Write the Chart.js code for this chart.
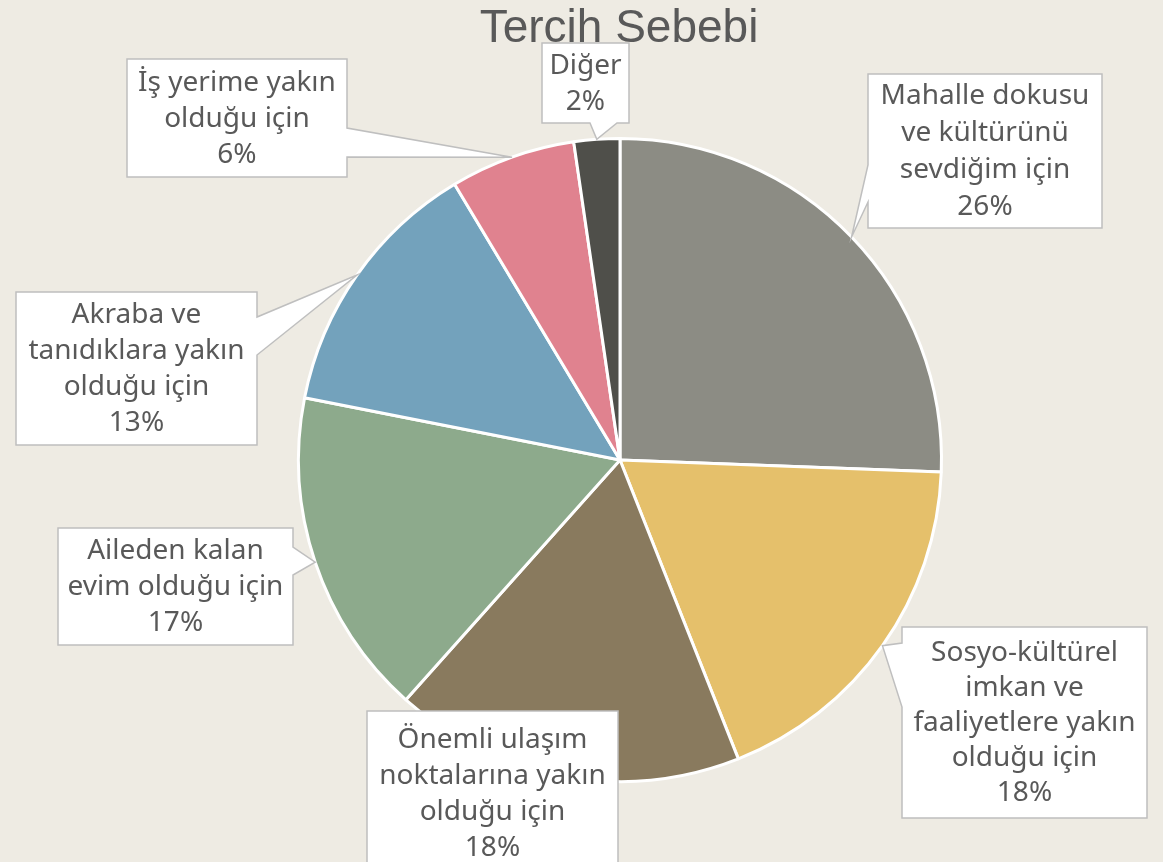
<!DOCTYPE html>
<html>
<head>
<meta charset="utf-8">
<script src="https://cdn.jsdelivr.net/npm/chart.js@4.4.1/dist/chart.umd.min.js"></script>
<style>
  html, body { margin: 0; padding: 0; background: #EEEBE3; }
  #wrap { width: 1163px; height: 862px; position: relative; overflow: hidden; }
</style>
</head>
<body>
<div id="wrap"><canvas id="pie"></canvas></div>
<script>
const title = 'Tercih Sebebi';
const labels = [
  ['Mahalle dokusu', 've kültürünü', 'sevdiğim için'],
  ['Sosyo-kültürel', 'imkan ve', 'faaliyetlere yakın', 'olduğu için'],
  ['Önemli ulaşım', 'noktalarına yakın', 'olduğu için'],
  ['Aileden kalan', 'evim olduğu için'],
  ['Akraba ve', 'tanıdıklara yakın', 'olduğu için'],
  ['İş yerime yakın', 'olduğu için'],
  ['Diğer']
];
const values = [25.6, 18.4, 17.6, 16.5, 13.3, 6.3, 2.3];
const colors = ['#8C8C84', '#E5C06B', '#897A5E', '#8DAA8C', '#73A2BC', '#E0828F', '#4F4F4A'];

// callout boxes: position + which side the pointer leaves from
const boxes = [
  { x: 868, y: 74, w: 234, h: 154, side: 'left', b1: 165, b2: 202, lh: 37 },
  { x: 902, y: 627, w: 245, h: 191, side: 'left', b1: 643, b2: 707, lh: 35 },
  { x: 367, y: 711, w: 251, h: 165, side: null, lh: 36 },
  { x: 58, y: 528, w: 235, h: 117, side: 'right', b1: 547, b2: 575, lh: 36 },
  { x: 16, y: 292, w: 241, h: 153, side: 'right', b1: 317, b2: 355, lh: 36 },
  { x: 127, y: 59, w: 220, h: 118, side: 'right', b1: 128, b2: 157, lh: 36 },
  { x: 542, y: 43, w: 87, h: 80, side: 'bottom', b1: 590, b2: 617, lh: 36 }
];

const FONT = '"Noto Sans", "Liberation Sans", sans-serif';

const callouts = {
  id: 'callouts',
  afterDatasetsDraw(chart) {
    const c = chart.ctx;
    const meta = chart.getDatasetMeta(0);
    const total = values.reduce((a, b) => a + b, 0);
    c.save();
    meta.data.forEach((arc, i) => {
      const p = arc.getProps(['x', 'y', 'startAngle', 'endAngle', 'outerRadius'], true);
      const mid = (p.startAngle + p.endAngle) / 2;
      const tx = p.x + Math.cos(mid) * p.outerRadius;
      const ty = p.y + Math.sin(mid) * p.outerRadius;
      const b = boxes[i];
      c.beginPath();
      c.moveTo(b.x, b.y);
      if (b.side === 'top') { c.lineTo(b.b1, b.y); c.lineTo(tx, ty); c.lineTo(b.b2, b.y); }
      c.lineTo(b.x + b.w, b.y);
      if (b.side === 'right') { c.lineTo(b.x + b.w, b.b1); c.lineTo(tx, ty); c.lineTo(b.x + b.w, b.b2); }
      c.lineTo(b.x + b.w, b.y + b.h);
      if (b.side === 'bottom') { c.lineTo(b.b2, b.y + b.h); c.lineTo(tx, ty); c.lineTo(b.b1, b.y + b.h); }
      c.lineTo(b.x, b.y + b.h);
      if (b.side === 'left') { c.lineTo(b.x, b.b2); c.lineTo(tx, ty); c.lineTo(b.x, b.b1); }
      c.closePath();
      c.fillStyle = '#FFFFFF';
      c.fill();
      c.strokeStyle = '#BFBFBF';
      c.lineWidth = 1.5;
      c.stroke();

      const lines = labels[i].concat([Math.round(values[i] / total * 100) + '%']);
      const lh = b.lh;
      c.fillStyle = '#595959';
      c.font = '28px ' + FONT;
      c.textAlign = 'center';
      c.textBaseline = 'middle';
      const cy = b.y + b.h / 2 - (lines.length - 1) * lh / 2 + 1;
      lines.forEach((t, k) => c.fillText(t, b.x + b.w / 2, cy + k * lh));
    });
    c.font = '46px "Liberation Sans", sans-serif';
    c.fillStyle = '#595959';
    c.textAlign = 'center';
    c.textBaseline = 'alphabetic';
    c.fillText(title, 619, 42);
    c.restore();
  }
};

new Chart(document.getElementById('pie'), {
  type: 'pie',
  data: {
    labels: labels.map(l => l.join(' ')),
    datasets: [{
      data: values,
      backgroundColor: colors,
      borderColor: '#FFFFFF',
      borderWidth: 3
    }]
  },
  options: {
    responsive: true,
    maintainAspectRatio: false,
    animation: false,
    layout: { padding: { top: 137, bottom: 79, left: 297, right: 220 } },
    plugins: {
      legend: { display: false },
      tooltip: { enabled: false },
      title: { display: false }
    }
  },
  plugins: [callouts]
});
</script>
</body>
</html>
